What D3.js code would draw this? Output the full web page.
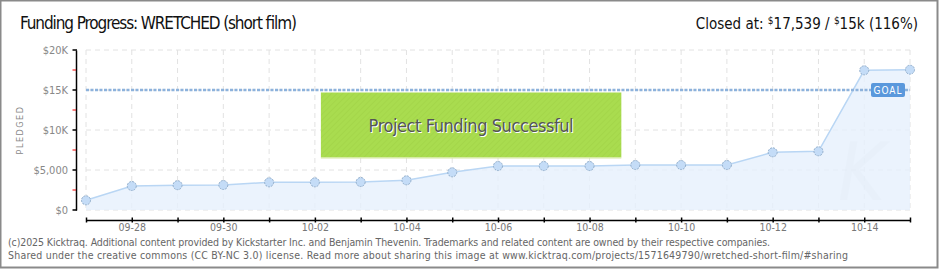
<!DOCTYPE html>
<html>
<head>
<meta charset="utf-8">
<script src="https://cdn.jsdelivr.net/npm/d3@7"></script>
<style>
  body { margin: 0; background: #fff; }
  svg text { font-family: "Liberation Sans Narrow", "DejaVu Sans Condensed", sans-serif; }
</style>
</head>
<body>
<div id="chart"></div>
<script>
// chart data
let days = ["09-27", "09-28", "09-29", "09-30", "10-01", "10-02", "10-03", "10-04", "10-05",
    "10-06", "10-07", "10-08", "10-09", "10-10", "10-11", "10-12", "10-13", "10-14", "10-15"];
let pledged = [1210, 3000, 3100, 3125, 3460, 3460, 3500, 3710, 4710,
    5500, 5500, 5500, 5625, 5625, 5625, 7210, 7340, 17460, 17539];
let yTicks = [0, 5000, 10000, 15000, 20000];
let yTickLabels = ["$0", "$5,000", "$10K", "$15K", "$20K"];
let xLabels = ["09-28", "09-30", "10-02", "10-04", "10-06", "10-08", "10-10", "10-12", "10-14"];
let goal = 15000;

let svgWidth = 940;
let svgHeight = 270;

let svg = d3.select("#chart")
    .append("svg")
    .attr("width", svgWidth)
    .attr("height", svgHeight);

// outer frame
svg.append("rect")
    .attr("x", 0.5).attr("y", 0.5)
    .attr("width", 937).attr("height", 267)
    .attr("fill", "#fff")
    .attr("stroke", "#8a8a8a")
    .attr("stroke-width", 2);

let xScale = d3.scalePoint()
    .domain(days)
    .range([86, 910]);

let yScale = d3.scaleLinear()
    .domain([0, 20000])
    .range([210, 50]);

// hatch pattern for the success box
let defs = svg.append("defs");
let pat = defs.append("pattern")
    .attr("id", "hatch")
    .attr("width", 4).attr("height", 4)
    .attr("patternUnits", "userSpaceOnUse")
    .attr("patternTransform", "rotate(45)");
pat.append("rect").attr("width", 4).attr("height", 4).attr("fill", "#a9dc4f");
pat.append("line").attr("x1", 0).attr("y1", 0).attr("x2", 0).attr("y2", 4)
    .attr("stroke", "#a2d448").attr("stroke-width", 1.5);

// grid
let grid = svg.append("g");
grid.selectAll(".hg")
    .data(yTicks)
    .enter()
    .append("line")
    .attr("x1", 86).attr("x2", 910)
    .attr("y1", d => yScale(d)).attr("y2", d => yScale(d))
    .attr("stroke", "#e2e2e2")
    .attr("stroke-dasharray", "5,4");
grid.selectAll(".vg")
    .data(days)
    .enter()
    .append("line")
    .attr("x1", d => xScale(d)).attr("x2", d => xScale(d))
    .attr("y1", 50).attr("y2", 210)
    .attr("stroke", "#e2e2e2")
    .attr("stroke-dasharray", "5,4");

let series = days.map((d, i) => ({ day: d, value: pledged[i] }));

// area + line
let area = d3.area()
    .x(d => xScale(d.day))
    .y0(yScale(0))
    .y1(d => yScale(d.value));
svg.append("path")
    .datum(series)
    .attr("d", area)
    .attr("fill", "#e6f0fc")
    .attr("opacity", 0.8);

let line = d3.line()
    .x(d => xScale(d.day))
    .y(d => yScale(d.value));
svg.append("path")
    .datum(series)
    .attr("d", line)
    .attr("fill", "none")
    .attr("stroke", "#b9d6f4")
    .attr("stroke-width", 1.5);

// faint watermark
svg.append("text")
    .attr("x", 838).attr("y", 200)
    .attr("font-size", 80)
    .attr("font-style", "italic")
    .attr("font-family", "DejaVu Serif, serif")
    .attr("fill", "#e4edf7")
    .attr("opacity", 0.35)
    .text("K");

// goal line
svg.append("line")
    .attr("x1", 86).attr("x2", 910)
    .attr("y1", yScale(goal)).attr("y2", yScale(goal))
    .attr("stroke", "#8db2dc")
    .attr("stroke-width", 2.5)
    .attr("stroke-dasharray", "3,1.5");

// points
svg.selectAll(".pt")
    .data(series)
    .enter()
    .append("circle")
    .attr("cx", d => xScale(d.day))
    .attr("cy", d => yScale(d.value))
    .attr("r", 4.5)
    .attr("fill", "#c4dcf7")
    .attr("stroke", "#92aecb")
    .attr("stroke-width", 1)
    .attr("stroke-dasharray", "2,1");

// goal tag
let gx = 871, gy = yScale(goal);
svg.append("rect")
    .attr("x", gx).attr("y", gy - 7)
    .attr("width", 34).attr("height", 14)
    .attr("rx", 2)
    .attr("fill", "#5a98dc");
svg.append("text")
    .attr("x", gx + 17).attr("y", gy + 4)
    .attr("text-anchor", "middle")
    .attr("font-size", 10)
    .attr("letter-spacing", 1)
    .attr("fill", "#fff")
    .text("GOAL");

// success box
let bx = xScale("10-02") + 6, bx2 = xScale("10-09") - 14;
svg.append("rect")
    .attr("x", bx).attr("y", 92.5)
    .attr("width", bx2 - bx).attr("height", 65)
    .attr("fill", "url(#hatch)");
svg.append("line")
    .attr("x1", bx).attr("x2", bx2)
    .attr("y1", 158).attr("y2", 158)
    .attr("stroke", "#d6e8a0");
svg.append("text")
    .attr("x", (bx + bx2) / 2 + 1).attr("y", 133)
    .attr("text-anchor", "middle")
    .attr("font-size", 18)
    .attr("fill", "#fff")
    .attr("textLength", 205)
    .text("Project Funding Successful");
svg.append("text")
    .attr("x", (bx + bx2) / 2).attr("y", 132)
    .attr("text-anchor", "middle")
    .attr("font-size", 18)
    .attr("fill", "#555")
    .attr("textLength", 205)
    .text("Project Funding Successful");

// y axis
let yAxis = d3.axisLeft(yScale)
    .tickValues(yTicks)
    .tickSize(0)
    .tickFormat((d, i) => yTickLabels[i]);
let yG = svg.append("g")
    .attr("transform", "translate(76,0)")
    .call(yAxis);
yG.select(".domain").attr("stroke", "#000").attr("stroke-width", 1.5);
yG.selectAll(".tick text")
    .attr("x", -8)
    .attr("font-size", 11)
    .attr("font-family", "DejaVu Sans Condensed, sans-serif")
    .attr("fill", "#888");
yG.selectAll(".major")
    .data(yTicks)
    .enter()
    .append("line")
    .attr("x1", -3.5).attr("x2", 1)
    .attr("y1", d => yScale(d)).attr("y2", d => yScale(d))
    .attr("stroke", "#000").attr("stroke-width", 1.5);
yG.selectAll(".minor")
    .data(yTicks.slice(0, -1))
    .enter()
    .append("line")
    .attr("x1", -3.5).attr("x2", 0)
    .attr("y1", d => yScale(d + 2500)).attr("y2", d => yScale(d + 2500))
    .attr("stroke", "#e00").attr("stroke-width", 1);

// x axis
let xAxis = d3.axisBottom(xScale)
    .tickSize(0)
    .tickFormat(d => xLabels.includes(d) ? d : "");
let xG = svg.append("g")
    .attr("transform", "translate(0,220)")
    .call(xAxis);
xG.select(".domain").attr("stroke", "#000").attr("stroke-width", 1.5);
xG.selectAll(".tick line")
    .attr("y1", -2.5).attr("y2", 2.5)
    .attr("stroke", "#000").attr("stroke-width", 1.5);
xG.selectAll(".tick text")
    .attr("y", 4)
    .attr("font-size", 10.5)
    .attr("font-family", "DejaVu Sans Condensed, sans-serif")
    .attr("fill", "#777");

// y label
svg.append("text")
    .attr("transform", "translate(23,130) rotate(-90)")
    .attr("text-anchor", "middle")
    .attr("font-size", 9)
    .attr("letter-spacing", 1.5)
    .attr("font-family", "DejaVu Sans, sans-serif")
    .attr("fill", "#888")
    .text("PLEDGED");

// title
svg.append("text")
    .attr("x", 20).attr("y", 29)
    .attr("font-size", 17)
    .attr("textLength", 277)
    .attr("fill", "#111")
    .text("Funding Progress: WRETCHED (short film)");

let closed = svg.append("text")
    .attr("x", 918).attr("y", 29)
    .attr("text-anchor", "end")
    .attr("font-size", 15)
    .attr("fill", "#111");
closed.append("tspan").text("Closed at:  ");
closed.append("tspan").attr("font-size", 10).attr("dy", -5).text("$");
closed.append("tspan").attr("dy", 5).text("17,539 /  ");
closed.append("tspan").attr("font-size", 10).attr("dy", -5).text("$");
closed.append("tspan").attr("dy", 5).text("15k (116%)");

// footer
let footer = [
    "(c)2025 Kicktraq. Additional content provided by Kickstarter Inc. and Benjamin Thevenin. Trademarks and related content are owned by their respective companies.",
    "Shared under the creative commons (CC BY-NC 3.0) license. Read more about sharing this image at www.kicktraq.com/projects/1571649790/wretched-short-film/#sharing"
];
let footLen = [762, 840];
svg.selectAll(".foot")
    .data(footer)
    .enter()
    .append("text")
    .attr("x", 8)
    .attr("y", (d, i) => 246 + i * 13)
    .attr("font-size", 10.5)
    .attr("textLength", (d, i) => footLen[i])
    .attr("fill", "#666")
    .text(d => d);
</script>
</body>
</html>
